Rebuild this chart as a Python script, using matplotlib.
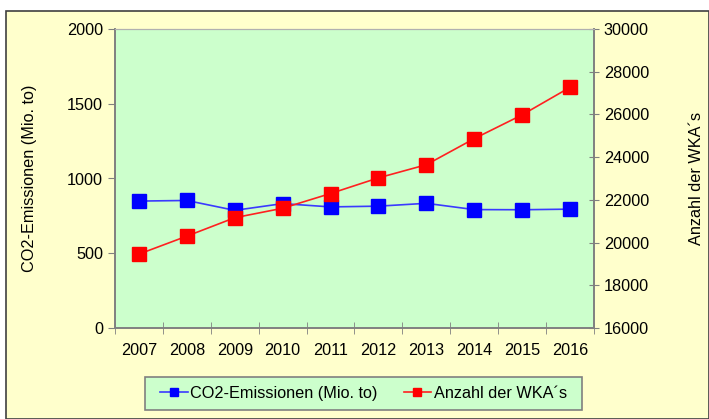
import matplotlib
matplotlib.use("Agg")
import matplotlib.pyplot as plt
from matplotlib.patches import Rectangle
import numpy as np

plt.rcParams['font.family'] = ['Liberation Sans', 'DejaVu Sans']
plt.rcParams['font.size'] = 11.7

years = ['2007', '2008', '2009', '2010', '2011', '2012', '2013', '2014', '2015', '2016']
co2 = [849, 853, 787, 832, 810, 815, 834, 792, 791, 795]
wka = [19460, 20301, 21164, 21607, 22297, 23030, 23645, 24867, 25980, 27270]

x = np.arange(len(years))
gray = '#808080'

fig = plt.figure(figsize=(7.09, 4.19), dpi=100, facecolor='white')
# yellow chart area with border
fig.patches.append(Rectangle((6 / 709, 0), 1 - 6 / 709, 1 - 11 / 419, transform=fig.transFigure,
                             facecolor='#FFFFCC', edgecolor='#404040', linewidth=1.2, zorder=-2))
# legend box
fig.patches.append(Rectangle((145 / 709, 1 - 410 / 419), 437 / 709, 33 / 419, transform=fig.transFigure,
                             facecolor='#CCFFCC', edgecolor=gray, linewidth=1.2, zorder=-1))

ax = fig.add_axes([115 / 709, 1 - 328 / 419, 479 / 709, 299 / 419])
ax.set_facecolor('#CCFFCC')
ax2 = ax.twinx()

l1, = ax.plot(x, co2, color='#3a3aff', linewidth=1.2, marker='s', markersize=10.5,
              markerfacecolor='#0000FF', markeredgecolor='#0000FF', label='CO2-Emissionen (Mio. to)')
l2, = ax2.plot(x, wka, color='#ff2020', linewidth=1.2, marker='s', markersize=10.5,
               markerfacecolor='#FF0000', markeredgecolor='#FF0000', label='Anzahl der WKA´s')

ax.set_xlim(-0.5, len(years) - 0.5)
ax.set_ylim(0, 2000)
ax.set_yticks([0, 500, 1000, 1500, 2000])
ax2.set_ylim(16000, 30000)
ax2.set_yticks(range(16000, 30001, 2000))

ax.set_xticks(x)
ax.set_xticklabels(years)
ax.set_xticks(np.arange(-0.5, len(years), 1), minor=True)
ax.tick_params(axis='x', which='major', length=0, pad=11)
ax.tick_params(axis='x', which='minor', direction='inout', length=8, color=gray)
ax.tick_params(axis='y', direction='out', length=5, color=gray)
ax2.tick_params(axis='y', direction='inout', length=7, color=gray)

for a in (ax, ax2):
    for s in a.spines.values():
        s.set_color(gray)
        s.set_linewidth(1.2)
    a.spines['top'].set_color('#b0b0b0')
    a.spines['top'].set_linewidth(0.8)

ax.set_ylabel('CO2-Emissionen (Mio. to)')
ax.yaxis.set_label_coords(-78 / 479, 0.5)
ax2.set_ylabel('Anzahl der WKA´s')
ax2.yaxis.set_label_coords(1 + 95 / 479, 0.5)

leg = fig.legend([l1, l2], [l1.get_label(), l2.get_label()], loc='center',
                 bbox_to_anchor=(363.5 / 709, 1 - 393.5 / 419), ncol=2, frameon=False,
                 markerscale=0.6, handlelength=1.7, handletextpad=0.15, columnspacing=1.6)

fig.savefig('out.png', dpi=100, facecolor=fig.get_facecolor())
